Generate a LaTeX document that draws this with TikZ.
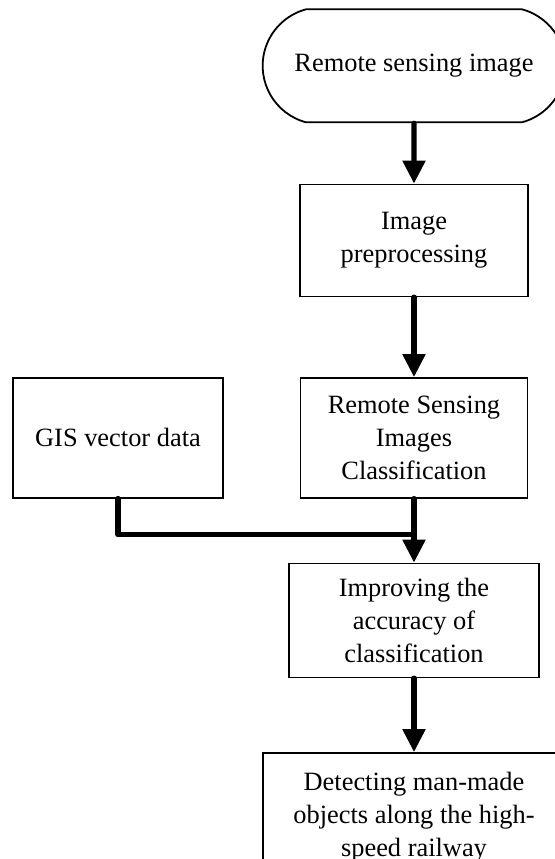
\documentclass[tikz,border=0pt]{standalone}
\usepackage{fontspec}
\setmainfont{Liberation Serif}
\usetikzlibrary{shapes.misc, arrows.meta, positioning}

\begin{document}
\begin{tikzpicture}[
    auto,
    node distance = 30pt,
    font = \fontsize{13.2}{16.5}\selectfont,
    block/.style = {draw, rectangle, line width=0.75pt, minimum height=60pt, minimum width=114pt, align=center},
    term/.style = {draw, rounded rectangle, rounded rectangle arc length=150, line width=0.9pt, minimum height=56.5pt, minimum width=158pt, align=center},
    line/.style = {-{Triangle[length=11.5pt, width=11pt]}, line width=2.6pt, line cap=round},
    mergeline/.style = {line width=2.7pt, line join=round, line cap=round}
]
    \clip (0,0) rectangle (277.5pt,-429.5pt);

    % Nodes
    \node [term] (image) at (207pt,-32.9pt) {Remote sensing image};
    \node [block, below=30.2pt of image, minimum height=56pt] (prep) {Image\\preprocessing};
    \node [block, below=40pt of prep, minimum width=113.5pt] (classify) {Remote Sensing\\Images\\Classification};
    \node [block, left=38pt of classify, minimum width=105pt] (gis) {GIS vector data};
    \node [block, below=32pt of classify, minimum width=125pt, minimum height=57pt] (improve) {Improving the\\accuracy of\\classification};
    \node [block, below=37pt of improve, minimum width=151pt, minimum height=64pt] (detect) {Detecting man-made\\objects along the high-\\speed railway};
    \coordinate [below=18pt of classify.south] (merge);

    % Edges
    \draw [line] (image) -- (prep);
    \draw [line] (prep) -- (classify);
    \draw [line] (classify) -- (improve);
    \draw [mergeline] (gis.south) |- (merge);
    \draw [line] (improve) -- (detect);

\end{tikzpicture}
\end{document}
